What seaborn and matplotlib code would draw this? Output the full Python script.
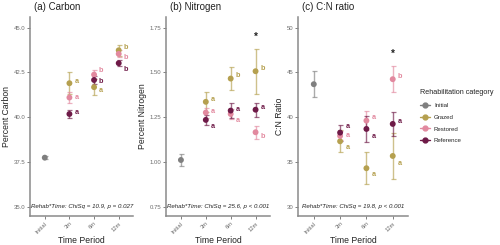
import matplotlib
matplotlib.use("Agg")
import matplotlib.pyplot as plt
from matplotlib.lines import Line2D
import seaborn as sns
import pandas as pd
import numpy as np

sns.set_theme(style="white")
plt.rcParams['font.family'] = ['Liberation Sans', 'DejaVu Sans']

periods = ['Initial', '3m', '6m', '12m']
categories = ['Initial', 'Grazed', 'Restored', 'Reference']
colors = {'Initial': '#7f7f7f', 'Grazed': '#b5a04f', 'Restored': '#e2899f', 'Reference': '#6e1a47'}

# Carbon
c_initial = [37.74]; c_initial_err = [0.10]
c_grazed = [41.90, 41.68, 43.74]; c_grazed_err = [0.60, 0.45, 0.30]
c_restored = [41.10, 42.38, 43.54]; c_restored_err = [0.30, 0.27, 0.20]
c_reference = [40.18, 42.08, 43.02]; c_reference_err = [0.25, 0.20, 0.15]
c_letters = {'Grazed': ['a', 'a', 'b'], 'Restored': ['a', 'b', 'b'], 'Reference': ['a', 'b', 'b']}
c_letter_y = {'Grazed': [41.97, 41.49, 43.89], 'Restored': [41.10, 42.60, 43.31], 'Reference': [40.26, 41.97, 42.68]}

# Nitrogen
n_initial = [1.011]; n_initial_err = [0.032]
n_grazed = [1.336, 1.466, 1.507]; n_grazed_err = [0.056, 0.062, 0.125]
n_restored = [1.276, 1.268, 1.166]; n_restored_err = [0.028, 0.028, 0.036]
n_reference = [1.235, 1.287, 1.292]; n_reference_err = [0.029, 0.042, 0.038]
n_letters = {'Grazed': ['a', 'b', 'b'], 'Restored': ['a', 'a', 'b'], 'Reference': ['a', 'a', 'a']}
n_letter_y = {'Grazed': [1.351, 1.485, 1.520], 'Restored': [1.281, 1.233, 1.144], 'Reference': [1.200, 1.295, 1.306]}

# C:N ratio
r_initial = [43.69]; r_initial_err = [1.42]
r_grazed = [37.31, 34.30, 35.67]; r_grazed_err = [1.25, 1.80, 2.60]
r_restored = [37.91, 39.62, 44.25]; r_restored_err = [0.50, 1.10, 1.42]
r_reference = [38.28, 38.69, 39.25]; r_reference_err = [0.90, 1.50, 1.30]
r_letters = {'Grazed': ['a', 'a', 'a'], 'Restored': ['a', 'a', 'b'], 'Reference': ['a', 'a', 'a']}
r_letter_y = {'Grazed': [36.57, 33.58, 34.85], 'Restored': [37.91, 40.00, 44.54], 'Reference': [38.95, 37.83, 39.47]}

panels = [
    dict(title='(a) Carbon', ylabel='Percent Carbon',
         vals=[c_initial, c_grazed, c_restored, c_reference],
         errs=[c_initial_err, c_grazed_err, c_restored_err, c_reference_err],
         letters=c_letters, letter_y=c_letter_y, star=None,
         ylim=(34.48, 45.6), yticks=[35.0, 37.5, 40.0, 42.5, 45.0], fmt='{:.1f}',
         note='Rehab*Time: ChiSq = 10.9, p = 0.027',
         pos=[30, 133]),
    dict(title='(b) Nitrogen', ylabel='Percent Nitrogen',
         vals=[n_initial, n_grazed, n_restored, n_reference],
         errs=[n_initial_err, n_grazed_err, n_restored_err, n_reference_err],
         letters=n_letters, letter_y=n_letter_y, star=1.70,
         ylim=(0.698, 1.81), yticks=[0.75, 1.00, 1.25, 1.50, 1.75], fmt='{:.2f}',
         note='Rehab*Time: ChiSq = 25.6, p < 0.001',
         pos=[166, 270]),
    dict(title='(c) C:N ratio', ylabel='C:N Ratio',
         vals=[r_initial, r_grazed, r_restored, r_reference],
         errs=[r_initial_err, r_grazed_err, r_restored_err, r_reference_err],
         letters=r_letters, letter_y=r_letter_y, star=47.05,
         ylim=(28.96, 51.2), yticks=[30, 35, 40, 45, 50], fmt='{:.0f}',
         note='Rehab*Time: ChiSq = 19.8, p < 0.001',
         pos=[298, 408]),
]

W, H = 500, 245
fig = plt.figure(figsize=(W / 100, H / 100), dpi=100)
top_px, bot_px = 17, 216

for p in panels:
    l, r = p['pos']
    ax = fig.add_axes([l / W, 1 - bot_px / H, (r - l) / W, (bot_px - top_px) / H])
    rows = []
    for cat, v, e in zip(categories, p['vals'], p['errs']):
        pers = ['Initial'] if cat == 'Initial' else periods[1:]
        for per, vv, ee in zip(pers, v, e):
            rows.append(dict(cat=cat, period=per, x=periods.index(per), y=vv, err=ee))
    df = pd.DataFrame(rows)
    for cat in categories:
        d = df[df.cat == cat]
        ax.errorbar(d.x, d.y, yerr=d.err, fmt='none', ecolor=colors[cat], alpha=0.65,
                    elinewidth=1.0, capsize=1.8, capthick=0.9, zorder=2)
    sns.scatterplot(data=df, x='x', y='y', hue='cat', palette=colors, hue_order=categories,
                    s=18, edgecolor='none', legend=False, ax=ax, zorder=3)
    for cat in categories[1:]:
        for i in range(3):
            ax.text(i + 1 + 0.2, p['letter_y'][cat][i], p['letters'][cat][i], color=colors[cat],
                    fontsize=5.2, fontweight='bold', ha='left', va='center')
    if p['star'] is not None:
        ax.text(3, p['star'], '*', color='#222222', fontsize=7, ha='center', va='center', fontweight='bold')
    ax.text(1.5, p['yticks'][0], p['note'], fontsize=4.4, style='italic', ha='center', va='center', color='#222222')
    ax.set_xlim(-0.6, 3.58)
    ax.set_ylim(*p['ylim'])
    ax.set_xticks(range(4))
    ax.set_xticklabels(periods, rotation=45, ha='right', rotation_mode='anchor', fontsize=4.2, color='#6b6b6b')
    ax.set_yticks(p['yticks'])
    ax.set_yticklabels([p['fmt'].format(t) for t in p['yticks']], fontsize=4.3, color='#6b6b6b')
    ax.tick_params(axis='both', length=2, width=0.6, color='#6b6b6b', pad=1.5, bottom=True, left=True)
    for s in ['top', 'right']:
        ax.spines[s].set_visible(False)
    for s in ['left', 'bottom']:
        ax.spines[s].set_color('#8a8a8a')
        ax.spines[s].set_linewidth(1.1)
    ax.set_xlabel('Time Period', fontsize=6.2, color='#222222', labelpad=1)
    ax.set_ylabel(p['ylabel'], fontsize=6.2, color='#222222', labelpad=2)
    ax.set_title(p['title'], fontsize=7, loc='left', x=0.04, pad=5, color='#222222')
    ax.grid(False)

handles = [Line2D([0], [0], color=colors[c], marker='o', markersize=3.5, linewidth=1.0, alpha=1) for c in categories]
fig.legend(handles, categories, title='Rehabilitation category', loc='upper left',
           bbox_to_anchor=(418 / W, 1 - 87 / H), frameon=False, fontsize=4.4, title_fontsize=5.2,
           handlelength=1.6, labelspacing=1.05, alignment='left', borderaxespad=0, handletextpad=0.6)

fig.savefig('out.png', dpi=100)
